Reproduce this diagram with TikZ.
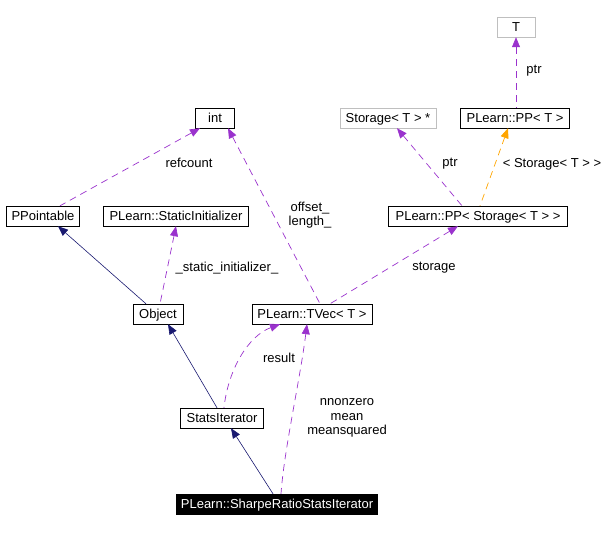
\documentclass[tikz,border=0pt]{standalone}
\usepackage{fontspec}
\setmainfont{Liberation Sans}
\usetikzlibrary{arrows.meta, positioning, calc}
\definecolor{dxnavy}{RGB}{25,25,112}
\definecolor{dxpurple}{RGB}{154,50,205}
\definecolor{dxorange}{RGB}{255,165,0}
\definecolor{dxgray}{RGB}{191,191,191}

\begin{document}
\begin{tikzpicture}[x=1pt, y=-1pt,
  cls/.style={rectangle, draw=black, fill=white, inner sep=0pt, minimum height=20pt, text height=9.5pt, text depth=1pt, font=\fontsize{13}{14.5}\selectfont},
  ext/.style={cls, draw=dxgray},
  root/.style={cls, fill=black, text=white},
  inh/.style={{Triangle[length=10pt,width=8pt]}-, dxnavy, line width=0.6pt},
  use/.style={{Triangle[length=10pt,width=8pt]}-, dxpurple, line width=0.7pt, dash pattern=on 7pt off 5pt},
  tpl/.style={{Triangle[length=10pt,width=8pt]}-, dxorange, line width=0.7pt, dash pattern=on 7pt off 5pt},
  lbl/.style={font=\fontsize{13}{14.5}\selectfont, align=center}
]
\useasboundingbox (0,0) rectangle (612,532);
\node[ext, minimum width=38pt] (t) at (516,27) {T};
\node[ext, minimum width=96pt] (stor) at (388,118) {Storage< T > *};
\node[cls, minimum width=109pt] (ppt) at (515,118) {PLearn::PP< T >};
\node[cls, minimum width=39pt] (int) at (215,118) {int};
\node[cls, minimum width=73pt] (ppoint) at (43,216) {PPointable};
\node[cls, minimum width=145pt] (sinit) at (176,216) {PLearn::StaticInitializer};
\node[cls, minimum width=179pt] (ppstor) at (478,216) {PLearn::PP< Storage< T > >};
\node[cls, minimum width=50pt] (obj) at (158,314) {Object};
\node[cls, minimum width=120pt] (tvec) at (312,314) {PLearn::TVec< T >};
\node[cls, minimum width=83pt] (stats) at (222,418) {StatsIterator};
\node[root, minimum width=201pt] (sharpe) at (277,504) {PLearn::SharpeRatioStatsIterator};
% inheritance
\draw[inh] ([xshift=15pt]ppoint.south) -- ([xshift=-12pt]obj.north);
\draw[inh] ([xshift=10pt]obj.south) -- ([xshift=-5pt]stats.north);
\draw[inh] ([xshift=9pt]stats.south) -- ([xshift=-4pt]sharpe.north);
% usage
\draw[use] ([xshift=-15pt]int.south) -- ([xshift=17pt]ppoint.north);
\draw[use] (sinit.south) -- ([xshift=2pt]obj.north);
\draw[use] ([xshift=13pt]int.south) -- ([xshift=8pt]tvec.north);
\draw[use] ([xshift=-20pt]ppstor.south) -- ([xshift=18pt]tvec.north);
\draw[use] ([xshift=-32pt]tvec.south) .. controls (248,336) and (228,370) .. ([xshift=2pt]stats.north);
\draw[use] ([xshift=-5pt]tvec.south) .. controls (300,380) and (284,450) .. ([xshift=4pt]sharpe.north);
\draw[use] ([xshift=9pt]stor.south) -- ([xshift=-16pt]ppstor.north);
\draw[use] (t.south) -- ([xshift=1pt]ppt.north);
\draw[tpl] ([xshift=-7pt]ppt.south) -- ([xshift=2pt]ppstor.north);
% Labels
\node[lbl] (lref) at (189,163) {refcount};
\node[lbl] (loff) at (310,215) {offset\_\\length\_};
\node[lbl] (lsinit) at (227,268) {\_static\_initializer\_};
\node[lbl] (lstor) at (434,268) {storage};
\node[lbl] (lres) at (279,358) {result};
\node[lbl] (lnn) at (347,418) {nnonzero\\mean\\meansquared};
\node[lbl] (lptr) at (450,164) {ptr};
\node[lbl] (lsts) at (552,164) {< Storage< T > >};
\node[lbl] (lptrt) at (534,71) {ptr};
\end{tikzpicture}
\end{document}
